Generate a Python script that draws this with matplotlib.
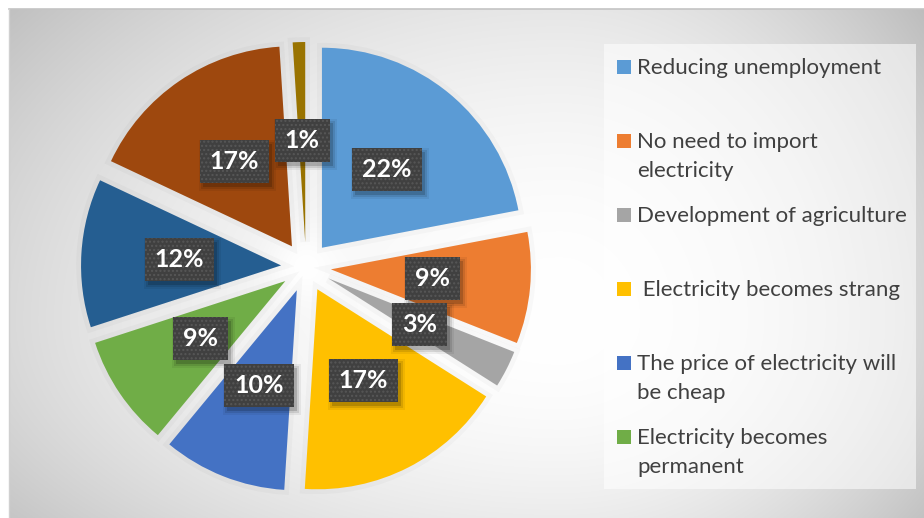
#!/usr/bin/env python3
"""
Exploded pie chart of the expected benefits of the power project,
with boxed percentage labels and a side legend.
"""

import numpy as np
import matplotlib.pyplot as plt
from matplotlib.patches import Rectangle
import matplotlib.patheffects as pe

# Share of answers (%), clockwise from the top
values = [22, 9, 3, 17, 10, 9, 12, 17, 1]
colors = ['#5B9BD5', '#ED7D31', '#A5A5A5', '#FFC000', '#4472C4',
          '#70AD47', '#255E91', '#9E480E', '#997300']

# Legend entries (only the first six fit in the legend box)
labels = ['Reducing unemployment',
          'No need to import\nelectricity',
          'Development of agriculture',
          ' Electricity becomes strang',
          'The price of electricity will\nbe cheap',
          'Electricity becomes\npermanent']

W, H = 924, 518
fig = plt.figure(figsize=(W / 100, H / 100), dpi=100)
ax = fig.add_axes([0, 0, 1, 1])
ax.set_xlim(0, W)
ax.set_ylim(0, H)
ax.set_axis_off()

# Grey radial background with a white glow behind the pie centre
cx, cy = 306, H - 267
xs = np.arange(9, W) + 0.5
ys = np.arange(0, H - 9) + 0.5
X, Y = np.meshgrid(xs, ys)
gx, gy = 560, H - 320
dx = np.where(X < gx, (X - gx) / 600, (X - gx) / 380)
dy = np.where(Y > gy, (Y - gy) / 420, (Y - gy) / 300)
r2 = dx ** 2 + dy ** 2
g = 255 - 45 * r2
glow = np.exp(-((X - cx) ** 2 + (Y - cy) ** 2) / 35 ** 2)
g = g + (255 - g) * glow
g = np.clip(g, 0, 255) / 255
ax.imshow(np.dstack([g, g, g]), extent=[9, W, 0, H - 9], origin='lower',
          interpolation='bilinear', zorder=0)
ax.plot([9, W], [H - 9, H - 9], color='#c4c4c4', lw=1.2, zorder=1)
ax.plot([9, 9], [0, H - 9], color='#d0d0d0', lw=1, zorder=1)

# Pie (explode is in data units here, i.e. pixels)
wedges, texts, autotexts = ax.pie(
    values, colors=colors, explode=[25] * len(values),
    startangle=90, counterclock=False, center=(cx, cy), radius=200,
    autopct='%1.0f%%', pctdistance=0.51, frame=True,
    textprops=dict(color='white', fontsize=18, fontweight='bold',
                   family=['Lato', 'DejaVu Sans']))
ax.set_xlim(0, W)
ax.set_ylim(0, H)
ax.set_aspect('equal')
ax.set_axis_off()

for w in wedges:
    w.set_zorder(2)
    w.set_path_effects([pe.Stroke(linewidth=7, foreground='k', alpha=0.025),
                        pe.Normal()])

# Dark dotted label boxes
for t in autotexts:
    t.set_zorder(5)
    t.set_bbox(dict(boxstyle='square,pad=0.4', facecolor='#404040',
                    edgecolor='#575757', linewidth=0, hatch='....'))

# Soft drop shadow under each box (axes units are pixels)
fig.canvas.draw()
inv = ax.transData.inverted()
for t in autotexts:
    bb = t.get_bbox_patch().get_window_extent().transformed(inv)
    for grow, a in [(4, 0.06), (2, 0.1), (0, 0.16)]:
        ax.add_patch(Rectangle((bb.x0 + 3 - grow, bb.y0 - 4 - grow),
                               bb.width + 2 * grow, bb.height + 2 * grow,
                               facecolor='k', alpha=a, linewidth=0,
                               zorder=4))

# Legend box
ax.add_patch(Rectangle((604, H - 489), 312, 445, facecolor='white',
                       alpha=0.55, linewidth=0, zorder=3))
y0, step = 67, 73.9
for i, lab in enumerate(labels):
    yc = H - (y0 + step * i)
    ax.add_patch(Rectangle((617, yc - 7), 14, 14, facecolor=colors[i],
                           linewidth=0, zorder=4))
    ax.text(637, yc + 9, lab, ha='left', va='top', fontsize=16,
            color='#404040', linespacing=1.58,
            family=['Lato', 'DejaVu Sans'], zorder=4)

fig.savefig('out.png', dpi=100)
